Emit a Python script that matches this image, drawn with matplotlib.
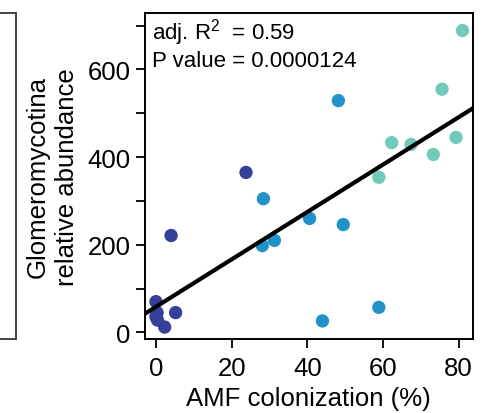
import matplotlib
matplotlib.use("Agg")

import matplotlib.pyplot as plt
from matplotlib.patches import Rectangle

plt.rcParams["font.family"] = ["Liberation Sans", "DejaVu Sans"]
plt.rcParams["mathtext.fontset"] = "custom"
plt.rcParams["mathtext.rm"] = "Liberation Sans"
plt.rcParams["mathtext.it"] = "Liberation Sans:italic"

# ---------------- data ----------------
navy_x = [0.0, 0.3, 0.0, 0.4, 2.3, 5.2, 4.0, 23.8]
navy_y = [70, 45, 36, 28, 12, 45, 221, 365]

blue_x = [48.2, 28.4, 40.6, 49.5, 31.3, 28.1, 58.9, 44.0]
blue_y = [529, 305, 260, 246, 210, 198, 57, 26]

teal_x = [81.0, 75.6, 79.3, 62.3, 67.4, 73.3, 58.9]
teal_y = [689, 555, 445, 433, 429, 406, 354]

fit_intercept = 58.3
fit_slope = 5.41

x_ticks = [0, 20, 40, 60, 80]
y_ticks = [0, 100, 200, 300, 400, 500, 600, 700]
y_labels = ["0", "", "200", "", "400", "", "600", ""]

# ---------------- plot ----------------
fig = plt.figure(figsize=(4.87, 4.14), dpi=100)
ax = fig.add_axes([0.2977, 0.1787, 0.6729, 0.7875])

ax.scatter(navy_x, navy_y, s=92, color="#34409A", edgecolors="none", zorder=2)
ax.scatter(blue_x, blue_y, s=92, color="#2193C8", edgecolors="none", zorder=2)
ax.scatter(teal_x, teal_y, s=92, color="#72CBB9", edgecolors="none", zorder=2)

ax.axline((0, fit_intercept), slope=fit_slope, color="black", lw=3, zorder=3)

ax.set_xlim(-2.9, 83.7)
ax.set_ylim(-15.3, 729)
ax.set_xticks(x_ticks)
ax.set_yticks(y_ticks)
ax.set_yticklabels(y_labels)
ax.tick_params(length=6.5, width=1.3, labelsize=18.5, pad=4, direction="out")
ax.tick_params(axis="x", pad=6)
for sp in ax.spines.values():
    sp.set_linewidth(1.4)

ax.set_xlabel("AMF colonization (%)", fontsize=18.5, labelpad=4)
ax.set_ylabel("Glomeromycotina\nrelative abundance", fontsize=18.5,
              labelpad=6, linespacing=1.25)

ax.text(0.02, 0.99, "adj. R$^2$  = 0.59\nP value = 0.0000124",
        transform=ax.transAxes, fontsize=16, va="top", ha="left",
        linespacing=1.15)

# edge of the neighbouring panel on the left
fig.patches.append(Rectangle((-0.05, 0.1787), 0.0829, 0.7875,
                             transform=fig.transFigure, fill=False,
                             edgecolor="#333333", lw=1.3))

plt.savefig("out.png", dpi=100)
plt.close()
